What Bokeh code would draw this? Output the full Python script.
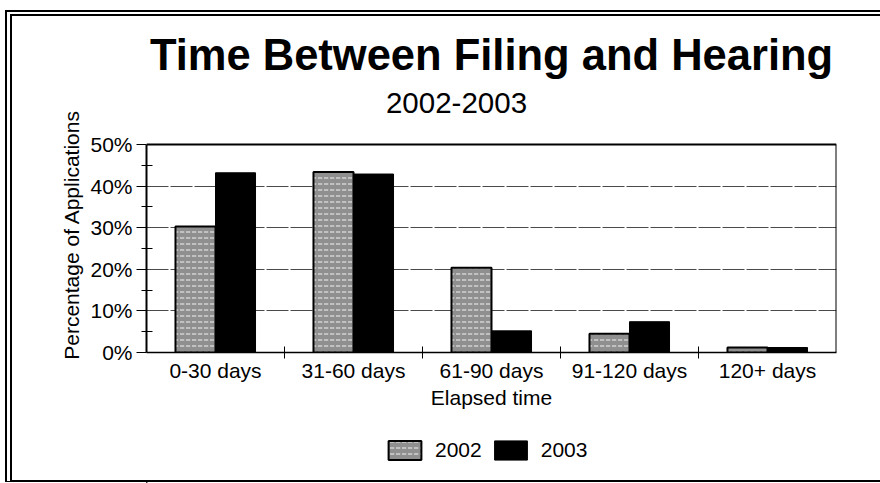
from bokeh.plotting import figure
from bokeh.layouts import column
from bokeh.models import (ColumnDataSource, FixedTicker, NumeralTickFormatter, Legend,
                          LegendItem, Label, InlineStyleSheet)
from bokeh.embed import file_html
from bokeh.resources import INLINE

# Data
categories = ["0-30 days", "31-60 days", "61-90 days", "91-120 days", "120+ days"]
years = ["2002", "2003"]
share_2002 = [0.303, 0.434, 0.204, 0.045, 0.012]
share_2003 = [0.432, 0.429, 0.052, 0.074, 0.012]
y_ticks = [0.0, 0.1, 0.2, 0.3, 0.4, 0.5]

W = 880
H_CHART, H_LEGEND = 428, 55
FL, FR, FT, FB = 146, 836, 144, 352   # box of the value axes on the page
Y_MAX = y_ticks[-1]
# the frame runs up to the top of the canvas so the titles can sit inside it
Y_TOP = Y_MAX * FB / (FB - FT)

FONT = "Liberation Sans"
GREY_FILL = dict(fill_color="#8f8f8f", line_color="black", line_width=2,
                 hatch_pattern="horizontal_dash", hatch_color="#d2d2d2",
                 hatch_scale=6, hatch_weight=1.5)
BLACK_FILL = dict(fill_color="black", line_color="black", line_width=1)

centers = [i + 0.5 for i in range(len(categories))]
bar_w = 0.29
src = ColumnDataSource(dict(
    x02=[c - bar_w / 2 for c in centers],
    x03=[c + bar_w / 2 for c in centers],
    y02=share_2002,
    y03=share_2003,
))

fig = figure(width=W, height=H_CHART, x_range=(0, len(categories)), y_range=(0, Y_TOP),
             title=None, output_backend="svg", toolbar_location=None,
             min_border_left=FL, min_border_right=W - FR,
             min_border_top=0, min_border_bottom=H_CHART - FB,
             background_fill_color="white", border_fill_color="white")
fig.outline_line_color = None

# top and right edges of the plot box
fig.segment(x0=[0, len(categories)], y0=[Y_MAX, 0],
            x1=[len(categories), len(categories)], y1=[Y_MAX, Y_MAX],
            line_color="black", line_width=2)

fig.vbar(x="x02", top="y02", width=bar_w, source=src, **GREY_FILL)
fig.vbar(x="x03", top="y03", width=bar_w, source=src, **BLACK_FILL)

# x axis: labels at category centres, ticks at category boundaries
xa = fig.xaxis[0]
xa.ticker = FixedTicker(ticks=centers, minor_ticks=list(range(1, len(categories))))
xa.major_label_overrides = {c: name for c, name in zip(centers, categories)}
xa.major_tick_in = 0
xa.major_tick_out = 0
xa.minor_tick_in = 6
xa.minor_tick_out = 6
xa.minor_tick_line_color = "black"
xa.axis_line_color = "black"
xa.axis_line_width = 1.5
xa.major_label_text_font = FONT
xa.major_label_text_font_size = "21px"
xa.major_label_text_color = "black"
xa.major_label_standoff = 0
xa.axis_label = "Elapsed time"
xa.axis_label_text_font = FONT
xa.axis_label_text_font_size = "21px"
xa.axis_label_text_font_style = "normal"
xa.axis_label_text_color = "black"
xa.axis_label_standoff = 1

# y axis: percentages with crossing minor ticks, line limited to 0-50%
ya = fig.yaxis[0]
ya.bounds = (0, Y_MAX)
ya.ticker = FixedTicker(ticks=y_ticks, minor_ticks=[t + 0.05 for t in y_ticks[:-1]])
ya.formatter = NumeralTickFormatter(format="0%")
ya.major_tick_in = 0
ya.major_tick_out = 10
ya.minor_tick_in = 6
ya.minor_tick_out = 5
ya.major_tick_line_color = "black"
ya.minor_tick_line_color = "black"
ya.axis_line_color = "black"
ya.axis_line_width = 2
ya.major_label_text_font = FONT
ya.major_label_text_font_size = "21px"
ya.major_label_text_color = "black"
ya.major_label_standoff = 4
# trailing no-break spaces keep the label centred on the 0-50% span
ya.axis_label = "Percentage of Applications" + "\u00a0" * 20
ya.axis_label_text_font = FONT
ya.axis_label_text_font_size = "21px"
ya.axis_label_text_font_style = "normal"
ya.axis_label_text_color = "black"
ya.axis_label_standoff = 4

fig.xgrid.visible = False
fig.ygrid.ticker = FixedTicker(ticks=y_ticks[1:-1])
fig.ygrid.grid_line_color = "#4a4a4a"
fig.ygrid.grid_line_width = 1
fig.ygrid.grid_line_dash = "22 2"

# Titles (frame-relative screen units)
fig.add_layout(Label(x=491 - FL, y=FB - 71 + 17, x_units="screen", y_units="screen",
                     text="Time Between Filing and Hearing", text_align="center",
                     text_baseline="alphabetic", text_font=FONT,
                     text_font_size="43.5px", text_font_style="bold",
                     text_color="black"))
fig.add_layout(Label(x=456 - FL, y=FB - 114 + 12, x_units="screen", y_units="screen",
                     text="2002-2003", text_align="center",
                     text_baseline="alphabetic", text_font=FONT,
                     text_font_size="29.5px", text_color="black"))

# Legend strip under the chart; its key glyphs sit outside the visible range
leg = figure(width=W, height=H_LEGEND, x_range=(0, W), y_range=(0, H_LEGEND),
             title=None, output_backend="svg", toolbar_location=None,
             x_axis_type=None, y_axis_type=None, min_border=0,
             background_fill_color="white", border_fill_color="white")
leg.outline_line_color = None
k02 = leg.vbar(x=[-100], top=[1], width=1, **GREY_FILL)
k03 = leg.vbar(x=[-100], top=[1], width=1, **BLACK_FILL)
leg.add_layout(Legend(items=[LegendItem(label=years[0], renderers=[k02]),
                             LegendItem(label=years[1], renderers=[k03])],
                      orientation="horizontal",
                      location=(384 - FL, H_LEGEND - (462 - H_CHART)),
                      glyph_width=41, glyph_height=24, label_standoff=10, spacing=8,
                      padding=0, margin=0, border_line_color=None,
                      background_fill_alpha=0,
                      label_text_font=FONT, label_text_font_size="21px",
                      label_text_color="black"), "center")

p = column(fig, leg, spacing=0)
# Page frame: double rule top and left, single rule at the bottom
p.stylesheets = [InlineStyleSheet(css="""
:host::after {
  content: "";
  position: absolute;
  left: 5px; top: 10px; width: 880px; height: 472px;
  box-sizing: border-box;
  border-left: 7px double #000;
  border-top: 6px double #000;
  border-bottom: 2px solid #000;
  pointer-events: none;
}
""")]

open("out.html", "w").write(file_html(p, INLINE))
